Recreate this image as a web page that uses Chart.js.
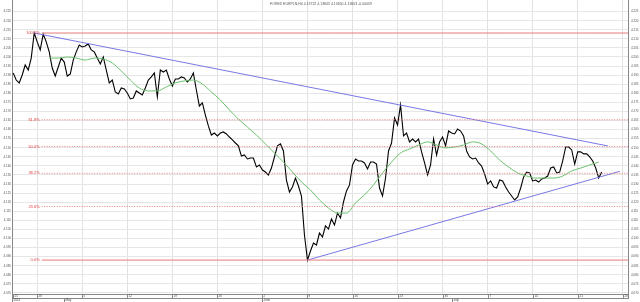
<!DOCTYPE html>
<html>
<head>
<meta charset="utf-8">
<title>EURPLN H4</title>
<script src="https://cdn.jsdelivr.net/npm/chart.js@4.4.0/dist/chart.umd.min.js"></script>
<style>
  body { margin: 0; background: #fff; }
  #chart { display: block; }
</style>
</head>
<body>
<canvas id="chart" width="640" height="302"></canvas>
<script>
// bar 0 = Mon 28 Apr 2014 00:00, H4 bars, weekends removed (30 bars per week)
const titleText = "FOREX EURPLN,H4 4.13722 4.13845 4.13650 4.13663 -0.00059";

// closes, one value every 2 bars from bar -16
const closeStartBar = -16;
const closeStepBars = 2;
const closes = [
  4.1912, 4.1873, 4.1857, 4.1901, 4.1956, 4.1928, 4.1994, 4.2132, 4.2083, 4.2039,
  4.2127, 4.2083, 4.2028, 4.1939, 4.1895, 4.1945, 4.1994, 4.1972, 4.1895, 4.1906,
  4.1983, 4.2028, 4.2066, 4.2055, 4.2061, 4.2072, 4.2039, 4.2028, 4.1994, 4.1961,
  4.2000, 4.1928, 4.1857, 4.1873, 4.1807, 4.1796, 4.1829, 4.1824, 4.1802, 4.1769,
  4.1774, 4.1813, 4.1802, 4.1791, 4.1829, 4.1873, 4.1890, 4.1912, 4.1780, 4.1928,
  4.1917, 4.1928, 4.1879, 4.1840, 4.1879, 4.1879, 4.1890, 4.1884, 4.1862, 4.1879,
  4.1912, 4.1818, 4.1730, 4.1747, 4.1680, 4.1620, 4.1570, 4.1581, 4.1565, 4.1581,
  4.1587, 4.1576, 4.1559, 4.1543, 4.1526, 4.1510, 4.1454, 4.1460, 4.1438, 4.1443,
  4.1443, 4.1394, 4.1405, 4.1377, 4.1366, 4.1350, 4.1388, 4.1449, 4.1510, 4.1521,
  4.1482, 4.1322, 4.1256, 4.1284, 4.1333, 4.1289, 4.1234, 4.1019, 4.0881, 4.0931,
  4.0975, 4.0964, 4.1030, 4.1008, 4.1069, 4.1052, 4.1107, 4.1074, 4.1140, 4.1113,
  4.1201, 4.1262, 4.1295, 4.1405, 4.1438, 4.1427, 4.1427, 4.1416, 4.1383, 4.1421,
  4.1421, 4.1410, 4.1278, 4.1234, 4.1333, 4.1482, 4.1526, 4.1664, 4.1625, 4.1735,
  4.1565, 4.1581, 4.1532, 4.1548, 4.1532, 4.1548, 4.1477, 4.1416, 4.1350, 4.1405,
  4.1548, 4.1460, 4.1532, 4.1559, 4.1510, 4.1592, 4.1581, 4.1576, 4.1603, 4.1592,
  4.1565, 4.1482, 4.1449, 4.1438, 4.1443, 4.1416, 4.1399, 4.1355, 4.1300, 4.1317,
  4.1284, 4.1278, 4.1322, 4.1317, 4.1284, 4.1256, 4.1234, 4.1212, 4.1229, 4.1278,
  4.1339, 4.1366, 4.1361, 4.1317, 4.1322, 4.1311, 4.1328, 4.1333, 4.1344, 4.1388,
  4.1394, 4.1361, 4.1366, 4.1427, 4.1504, 4.1504, 4.1488, 4.1410, 4.1477, 4.1477,
  4.1466, 4.1466, 4.1449, 4.1427, 4.1388, 4.1333, 4.1366
];

// moving average, one value per trading day (6 bars) from bar 8
const maStartBar = 8;
const maStepBars = 6;
const maValues = [
  4.1994, 4.1994, 4.2000, 4.1994, 4.1983, 4.1994, 4.1989, 4.1967, 4.1923, 4.1873,
  4.1829, 4.1813, 4.1813, 4.1835, 4.1857, 4.1868, 4.1873, 4.1851, 4.1807, 4.1763,
  4.1708, 4.1658, 4.1614, 4.1570, 4.1521, 4.1471, 4.1421, 4.1366, 4.1311, 4.1267,
  4.1212, 4.1168, 4.1140, 4.1140, 4.1196, 4.1240, 4.1295, 4.1361, 4.1421, 4.1471,
  4.1493, 4.1515, 4.1532, 4.1515, 4.1499, 4.1504, 4.1515, 4.1532, 4.1521, 4.1482,
  4.1432, 4.1394, 4.1361, 4.1344, 4.1333, 4.1333, 4.1333, 4.1344, 4.1372, 4.1388,
  4.1405, 4.1421
];

// trend lines [bar, price]
const upperTrend = [[-2, 4.2132], [380, 4.1510]];
const lowerTrend = [[180, 4.0881], [388, 4.1370]];

// fibonacci retracement
const fibHigh = 4.2132;
const fibLow = 4.0881;
const fibRatios = [1, 0.618, 0.5, 0.382, 0.236, 0];
const fibLabels = ["100.0%", "61.8%", "50.0%", "38.2%", "23.6%", "0.0%"];
const fibStartBar = 3;
const fibEndBar = 394;

const yTicks = [
  4.070, 4.075, 4.080, 4.085, 4.090, 4.095, 4.100, 4.105, 4.110, 4.115, 4.120,
  4.125, 4.130, 4.135, 4.140, 4.145, 4.150, 4.155, 4.160, 4.165, 4.170, 4.175,
  4.180, 4.185, 4.190, 4.195, 4.200, 4.205, 4.210, 4.215, 4.220, 4.225
];
const dayTickBars = [-16, 0, 30, 60, 90, 120, 150, 180, 210, 240, 270, 300, 330, 360, 390];
const dayTickLabels = ["25", "28", "5", "12", "19", "26", "2", "9", "16", "23", "30", "7", "14", "21", "28"];
const monthBars = [-16.5, 18, 150, 276];
const monthLabels = ["2014", "May", "June", "July"];

const font = "'Liberation Sans', Arial, sans-serif";

const closeData = closes.map((v, i) => ({ x: closeStartBar + i * closeStepBars, y: v }));
const maData = maValues.map((v, i) => ({ x: maStartBar + i * maStepBars, y: v }));

const fibSets = fibRatios.map((r) => {
  const v = fibLow + (fibHigh - fibLow) * r;
  const solid = r === 1 || r === 0;
  return {
    data: [{ x: fibStartBar, y: v }, { x: fibEndBar, y: v }],
    borderColor: solid ? "#e77a7a" : "#e88080",
    borderWidth: 1,
    borderDash: solid ? [] : [1, 1.5],
  };
});

const overlay = {
  id: "overlay",
  afterDraw(chart) {
    const { ctx, chartArea: area, scales } = chart;
    const x = scales.x;
    const y = scales.y;
    ctx.save();

    ctx.font = "3.5px " + font;
    ctx.fillStyle = "#555";
    ctx.textAlign = "center";
    ctx.textBaseline = "middle";
    ctx.fillText(titleText, 321, 4);

    ctx.font = "4px " + font;
    ctx.fillStyle = "#e03a3a";
    ctx.textAlign = "right";
    fibRatios.forEach((r, i) => {
      const v = fibLow + (fibHigh - fibLow) * r;
      ctx.fillText(fibLabels[i], x.getPixelForValue(fibStartBar) - 2, y.getPixelForValue(v));
    });

    // time strip under the plot
    const top = area.bottom;
    ctx.strokeStyle = "#888";
    ctx.lineWidth = 1;
    ctx.strokeRect(area.left + 0.5, top + 0.5, area.right - area.left, 4);
    ctx.font = "3px " + font;
    ctx.fillStyle = "#444";
    ctx.textAlign = "left";
    dayTickBars.forEach((b, i) => {
      const px = Math.round(x.getPixelForValue(b)) + 0.5;
      ctx.beginPath();
      ctx.moveTo(px, top);
      ctx.lineTo(px, top + 4);
      ctx.stroke();
      ctx.fillText(dayTickLabels[i], px + 1, top + 2.5);
    });
    monthBars.forEach((b, i) => {
      const px = Math.max(area.left, Math.round(x.getPixelForValue(b))) + 0.5;
      ctx.beginPath();
      ctx.moveTo(px, top + 4);
      ctx.lineTo(px, top + 8);
      ctx.stroke();
      ctx.fillText(monthLabels[i], px + 1, top + 6.5);
    });
    ctx.restore();
  },
};

function fixedYTicks(scale) {
  scale.ticks = yTicks.map((v) => ({ value: v }));
}
function fitY(scale) {
  scale.width = 12;
  scale.paddingTop = 0;
  scale.paddingBottom = 0;
}

new Chart(document.getElementById("chart"), {
  type: "line",
  data: {
    datasets: [
      ...fibSets,
      {
        data: upperTrend.map(([b, v]) => ({ x: b, y: v })),
        borderColor: "#7878e6",
        borderWidth: 1,
      },
      {
        data: lowerTrend.map(([b, v]) => ({ x: b, y: v })),
        borderColor: "#7878e6",
        borderWidth: 1,
      },
      {
        data: maData,
        borderColor: "#6cc06c",
        borderWidth: 1,
        cubicInterpolationMode: "monotone",
      },
      {
        data: closeData,
        borderColor: "#000",
        borderWidth: 1.1,
      },
    ],
  },
  options: {
    responsive: false,
    animation: false,
    layout: { padding: 0 },
    elements: { point: { radius: 0 }, line: { tension: 0 } },
    plugins: { legend: { display: false }, tooltip: { enabled: false } },
    scales: {
      x: {
        type: "linear",
        min: -16.8,
        max: 393.5,
        afterBuildTicks(scale) {
          scale.ticks = dayTickBars.filter((b) => b >= 0).map((b) => ({ value: b }));
        },
        afterFit(scale) {
          scale.height = 8;
          scale.paddingLeft = 0;
          scale.paddingRight = 0;
        },
        ticks: { display: false },
        grid: { color: "#e2e2e2", drawTicks: false },
        border: { color: "#888", dash: [] },
      },
      y: {
        position: "left",
        min: 4.0694,
        max: 4.2314,
        afterBuildTicks: fixedYTicks,
        afterFit: fitY,
        ticks: {
          padding: 1,
          font: { size: 3, family: font },
          color: "#555",
          callback: (v) => v.toFixed(3),
        },
        grid: { color: "#e6e6e6", drawTicks: false },
        border: { color: "#888" },
      },
      yR: {
        position: "right",
        min: 4.0694,
        max: 4.2314,
        afterBuildTicks: fixedYTicks,
        afterFit: fitY,
        ticks: {
          padding: 3,
          font: { size: 3, family: font },
          color: "#555",
          callback: (v) => v.toFixed(3),
        },
        grid: { display: false, drawTicks: false },
        border: { color: "#888" },
      },
    },
  },
  plugins: [overlay],
});
</script>
</body>
</html>
